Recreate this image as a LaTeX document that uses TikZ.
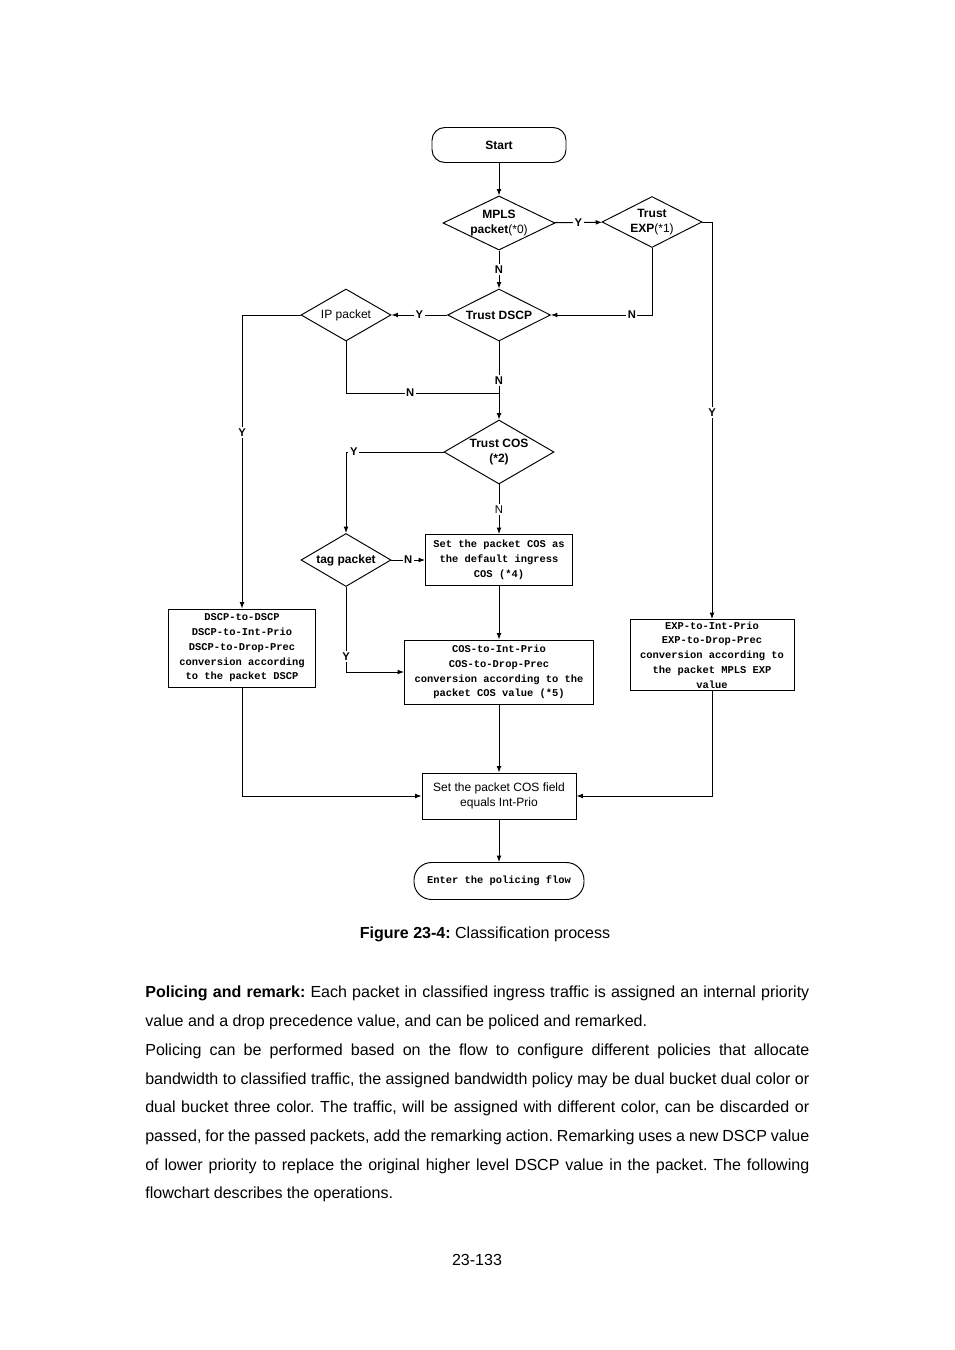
\documentclass[tikz,border=0pt]{standalone}
\usepackage{fontspec}
\setmainfont{Liberation Sans}
\setmonofont{Liberation Mono}
\usetikzlibrary{shapes.geometric,arrows.meta}
\newcommand{\pxu}{0.6237pt}

\begin{document}
\frenchspacing
\begin{tikzpicture}[x=\pxu,y=-\pxu,
  flow/.style={line width=0.6pt,-{Latex[length=4pt,width=3pt]}},
  plain/.style={line width=0.6pt},
  decide/.style={diamond,draw,line width=0.6pt,inner sep=0pt,shape aspect=2,align=center,
    font=\fontsize{7.5}{9}\selectfont\bfseries},
  stepbox/.style={rectangle,draw,line width=0.6pt,inner sep=1pt,align=center,
    font=\ttfamily\bfseries\fontsize{6.5}{9.2}\selectfont},
  term/.style={rectangle,draw,line width=0.6pt,align=center},
  lbl/.style={fill=white,inner sep=1pt,font=\fontsize{7}{8}\selectfont\bfseries}]
  \useasboundingbox (0,0) rectangle (954,1350);
  % terminators and decisions
  \node[term,rounded corners=8pt,minimum width={134*\pxu},minimum height={35*\pxu},font=\fontsize{7.5}{9}\selectfont\bfseries] (start) at (499,145) {Start};
  \node[decide,minimum width={112*\pxu},minimum height={51*\pxu}] (mpls) at (499,223) {MPLS\\packet{\mdseries(*0)}};
  \node[decide,minimum width={100*\pxu},minimum height={51*\pxu}] (exp) at (652,222) {Trust\\EXP{\mdseries(*1)}};
  \node[decide,minimum width={103*\pxu},minimum height={52*\pxu}] (dscp) at (499,315) {Trust DSCP};
  \node[decide,minimum width={90*\pxu},minimum height={52*\pxu},font=\fontsize{7.5}{9}\selectfont] (ip) at (346,315) {IP packet};
  \node[decide,minimum width={110*\pxu},minimum height={64*\pxu}] (cos) at (499,452) {Trust COS\\(*2)};
  \node[decide,minimum width={90*\pxu},minimum height={53*\pxu}] (tag) at (346,560) {tag packet};
  % process boxes
  \node[stepbox,minimum width={147*\pxu},minimum height={51*\pxu}] (setdef) at (499,560) {Set the packet COS as\\the default ingress\\COS (*4)};
  \node[stepbox,minimum width={147*\pxu},minimum height={78*\pxu}] (dscpbox) at (242,648) {DSCP-to-DSCP\\DSCP-to-Int-Prio\\DSCP-to-Drop-Prec\\conversion according\\to the packet DSCP};
  \node[stepbox,minimum width={189*\pxu},minimum height={64*\pxu}] (cosbox) at (499,672) {COS-to-Int-Prio\\COS-to-Drop-Prec\\conversion according to the\\packet COS value (*5)};
  \node[stepbox,minimum width={164*\pxu},minimum height={71*\pxu}] (expbox) at (712,655) {EXP-to-Int-Prio\\EXP-to-Drop-Prec\\conversion according to\\the packet MPLS EXP\\value};
  \node[term,minimum width={154*\pxu},minimum height={46*\pxu},font=\fontsize{7.5}{9.5}\selectfont] (setf) at (499,796) {Set the packet COS field\\equals Int-Prio};
  \node[term,rounded corners=11pt,minimum width={170*\pxu},minimum height={37*\pxu},font=\ttfamily\bfseries\fontsize{6.5}{8}\selectfont] (enter) at (499,881) {Enter the policing flow};
  \coordinate (join) at (499,393);
  % connectors
  \draw[flow] (start) -- (mpls);
  \draw[flow] (mpls) -- node[lbl]{Y} (exp);
  \draw[flow] (mpls) -- node[lbl]{N} (dscp);
  \draw[flow] (exp.south) |- node[lbl,pos=0.6]{N} (dscp.east);
  \draw[flow] (exp.east) -| node[lbl,pos=0.74]{Y} (expbox.north);
  \draw[flow] (dscp) -- node[lbl]{Y} (ip);
  \draw[flow] (dscp) -- node[lbl]{N} (cos);
  \draw[plain] (ip.south) |- node[lbl,pos=0.71]{N} (join);
  \draw[flow] (ip.west) -| node[lbl,pos=0.7]{Y} (dscpbox.north);
  \draw[flow] (cos.west) -| node[lbl,pos=0.46]{Y} (tag.north);
  \draw[flow] (cos) -- node[lbl,font=\fontsize{7}{8}\selectfont]{N} (setdef);
  \draw[flow] (tag) -- node[lbl]{N} (setdef);
  \draw[flow] (tag.south) |- node[lbl,pos=0.41]{Y} (cosbox.west);
  \draw[flow] (setdef) -- (cosbox);
  \draw[flow] (dscpbox.south) |- (setf.west);
  \draw[flow] (cosbox) -- (setf);
  \draw[flow] (expbox.south) |- (setf.east);
  \draw[flow] (setf) -- (enter);
  % caption and page text
  \node[font=\fontsize{10}{12}\selectfont] (caption) at (485,934) {\textbf{Figure 23-4:} Classification process};
  \node[anchor=north west,inner sep=0pt,text width={664*\pxu},align=justify,
    font=\fontsize{10}{17.9}\selectfont] (body) at (145,986)
    {\textbf{Policing and remark:} Each packet in classified ingress traffic is assigned an internal priority\linebreak
    value and a drop precedence value, and can be policed and remarked.\par
    Policing can be performed based on the flow to configure different policies that allocate\linebreak
    bandwidth to classified traffic, the assigned bandwidth policy may be dual bucket dual color or\linebreak
    dual bucket three color. The traffic, will be assigned with different color, can be discarded or\linebreak
    passed, for the passed packets, add the remarking action. Remarking uses a new DSCP value\linebreak
    of lower priority to replace the original higher level DSCP value in the packet. The following\linebreak
    flowchart describes the operations.};
  \node[font=\fontsize{10}{12}\selectfont] (pageno) at (477,1260) {23-133};
\end{tikzpicture}
\end{document}
